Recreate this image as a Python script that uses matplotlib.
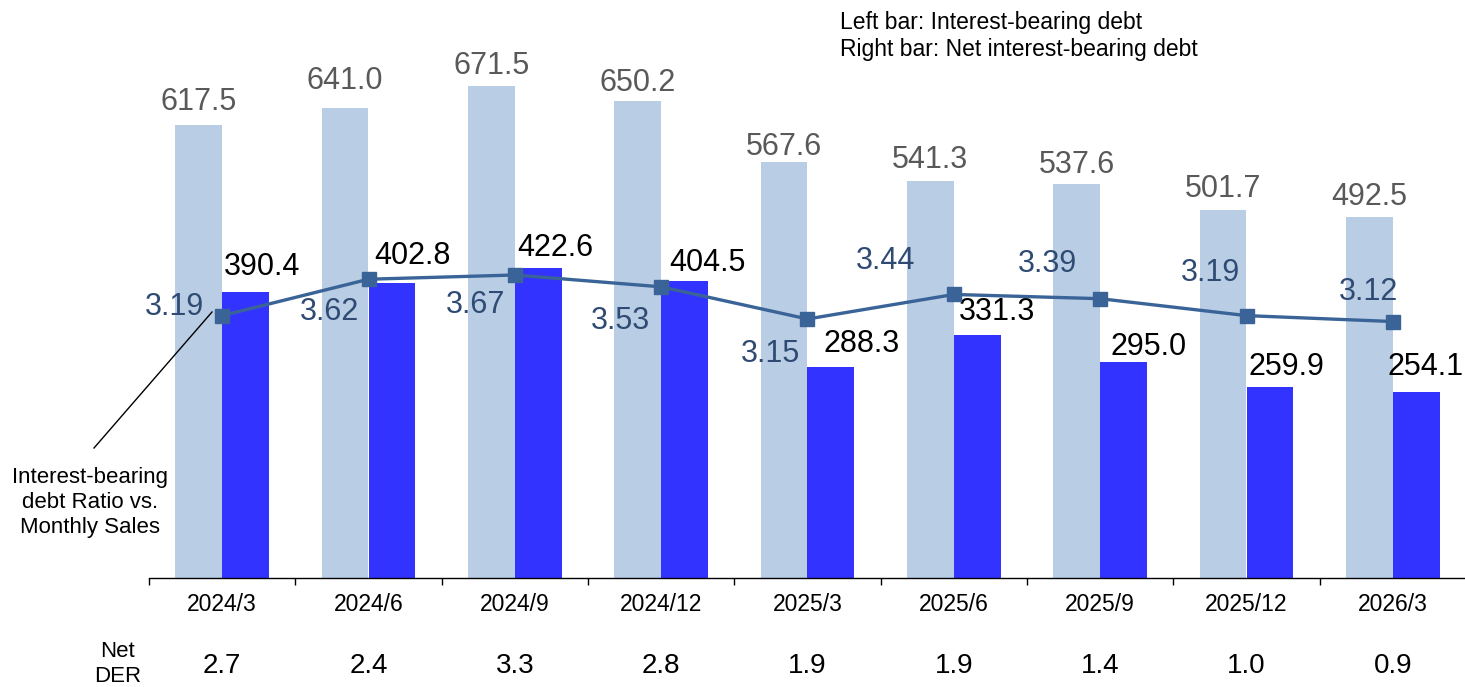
import numpy as np
import matplotlib.pyplot as plt
from matplotlib.lines import Line2D

plt.rcParams['font.family'] = ['Liberation Sans', 'DejaVu Sans']

periods = ["2024/3", "2024/6", "2024/9", "2024/12", "2025/3",
           "2025/6", "2025/9", "2025/12", "2026/3"]
debt = [617.5, 641.0, 671.5, 650.2, 567.6, 541.3, 537.6, 501.7, 492.5]
net_debt = [390.4, 402.8, 422.6, 404.5, 288.3, 331.3, 295.0, 259.9, 254.1]
ratio = [3.19, 3.62, 3.67, 3.53, 3.15, 3.44, 3.39, 3.19, 3.12]
net_der = [2.7, 2.4, 3.3, 2.8, 1.9, 1.9, 1.4, 1.0, 0.9]

LIGHT = "#B9CDE5"
DARK = "#3333FF"
LINE = "#3A6497"
RATIO_TXT = "#2F4B73"
GREY = "#595959"

# label nudges in pixels (dx, dy)
debt_off = [(0, 15), (0, 19), (0, 12), (0, 10), (0, 7),
            (0, 13), (0, 11), (0, 13), (0, 12)]
net_off = [(16, 17), (21, 19), (17, 12), (23, 10), (31, 15),
           (20, 15), (25, 7), (17, 12), (9, 17)]
ratio_off = [(-48, 9), (-39, -33), (-39, -30), (-41, -34), (-37, -35),
             (-68, 33), (-53, 35), (-36, 43), (-24, 30)]

W, H = 1465, 687
fig = plt.figure(figsize=(W / 100, H / 100), dpi=100)
ax = fig.add_axes([149 / W, 109 / H, 1317 / W, 578 / H])
ax2 = ax.twinx()

x = np.arange(len(periods))
bw = 0.32
ax.bar(x - bw / 2, debt, bw, color=LIGHT, zorder=1)
ax.bar(x + bw / 2, net_debt, bw, color=DARK, zorder=1)

for i, v in enumerate(debt):
    ax.annotate(f"{v:.1f}", (x[i] - bw / 2, v), xytext=debt_off[i],
                textcoords="offset pixels", ha="center", va="baseline",
                fontsize=22, color=GREY)
for i, v in enumerate(net_debt):
    ax.annotate(f"{v:.1f}", (x[i] + bw / 2, v), xytext=net_off[i],
                textcoords="offset pixels", ha="center", va="baseline",
                fontsize=22, color="black")

ax2.plot(x, ratio, color=LINE, lw=2.4, marker="s", markersize=10,
         markerfacecolor=LINE, markeredgecolor=LINE, zorder=3)
for i, v in enumerate(ratio):
    ax2.annotate(f"{v:.2f}", (x[i], v), xytext=ratio_off[i],
                 textcoords="offset pixels", ha="center", va="center",
                 fontsize=22, color=RATIO_TXT)

ax.set_xlim(-0.5, len(periods) - 0.5)
ax.set_ylim(0, 788.2)
ax2.set_ylim(0.089, 6.92)

for a in (ax, ax2):
    for s in ("left", "right", "top"):
        a.spines[s].set_visible(False)
    a.set_yticks([])
ax2.spines["bottom"].set_visible(False)
ax.spines["bottom"].set_color("black")
ax.spines["bottom"].set_linewidth(1)

ax.set_xticks(x)
ax.set_xticklabels(periods, fontsize=16.5)
ax.tick_params(axis="x", which="major", length=0, pad=11)
ax.set_xticks(np.arange(-0.5, len(periods)), minor=True)
ax.tick_params(axis="x", which="minor", length=5, width=1, direction="out")

# Net DER row under the axis
for i, v in enumerate(net_der):
    ax.annotate(f"{v:.1f}", (x[i], 0), xycoords=ax.get_xaxis_transform(),
                xytext=(x[i], 21 / H), textcoords=("data", "figure fraction"),
                fontsize=20, ha="center", va="center")
fig.text(117.5 / W, 23 / H, "Net\nDER", fontsize=16, ha="center",
         va="center", linespacing=1.3)

# legend note, top right
fig.text(840 / W, 1 - 36 / H, "Left bar: Interest-bearing debt\n"
         "Right bar: Net interest-bearing debt", fontsize=16.5,
         ha="left", va="center", linespacing=1.2)

# callout for the ratio line
fig.text(90 / W, 1 - 502 / H, "Interest-bearing\ndebt Ratio vs.\nMonthly Sales",
         fontsize=16, ha="center", va="center", linespacing=1.25)
fig.add_artist(Line2D([94 / W, 212 / W], [1 - 448 / H, 1 - 312 / H],
                      transform=fig.transFigure, color="black", lw=1))

fig.savefig("out.png", dpi=100)
